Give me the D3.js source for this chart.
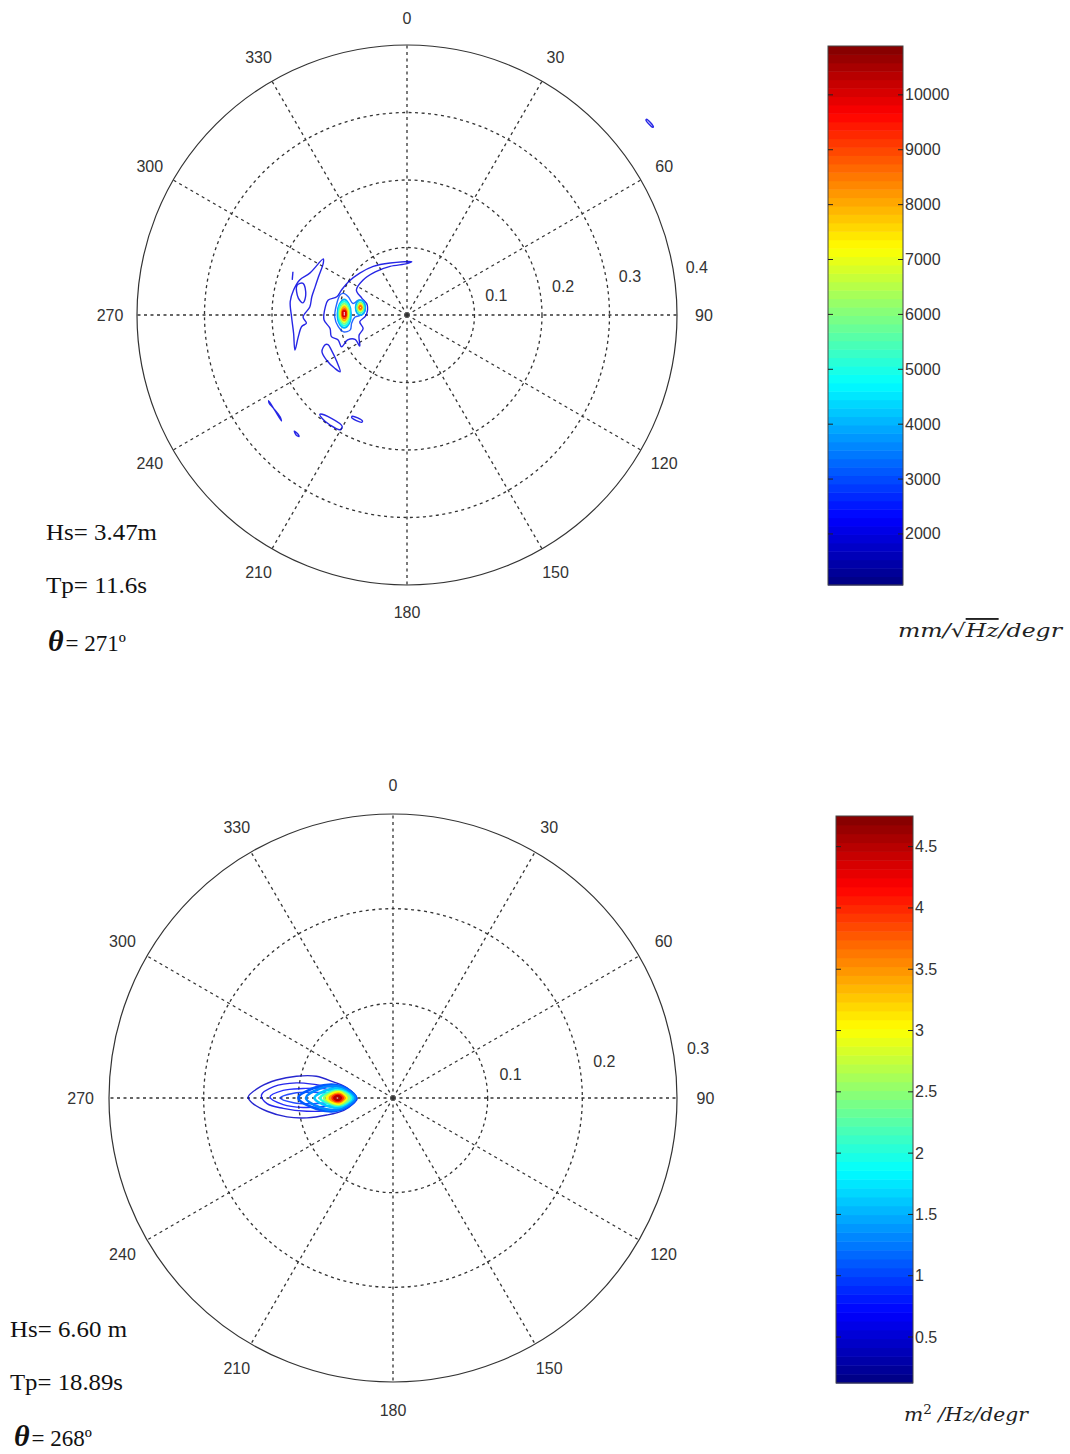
<!DOCTYPE html>
<html>
<head>
<meta charset="utf-8">
<script src="https://cdn.jsdelivr.net/npm/d3@7"></script>
<style>
  body { margin: 0; background: #fff; }
  svg text { font-family: "Liberation Sans", Arial, sans-serif; }
</style>
</head>
<body>
<div id="chart-holder"></div>
<script>
// direction labels (compass, clockwise from north)
const dirTicks = [0, 30, 60, 90, 120, 150, 180, 210, 240, 270, 300, 330];

// top panel
const topFreqTicks = [0.1, 0.2, 0.3, 0.4];
const topColorDomain = [1070, 10890];
const topColorTicks = [2000, 3000, 4000, 5000, 6000, 7000, 8000, 9000, 10000];
const topInfo = ["Hs= 3.47m", "Tp= 11.6s", "= 271º"];

// contours: [level, closed, [[east, north] frequency components]]
const topContours = [
  [2000, true, [[-0.124, 0.083], [-0.144, 0.062], [-0.159, 0.052], [-0.168, 0.037], [-0.173, 0.020], [-0.171, -0.003], [-0.168, -0.027], [-0.166, -0.052], [-0.161, -0.032], [-0.156, -0.017], [-0.149, -0.012], [-0.154, -0.003], [-0.144, 0.012], [-0.141, 0.027], [-0.136, 0.042], [-0.131, 0.057], [-0.124, 0.077]]],
  [2000, true, [[-0.163, 0.044], [-0.154, 0.047], [-0.150, 0.030], [-0.154, 0.018], [-0.161, 0.025]]],
  [2000, false, [[-0.169, 0.064], [-0.170, 0.052]]],
  [2000, true, [[0.007, 0.079], [-0.025, 0.077], [-0.050, 0.072], [-0.070, 0.062], [-0.087, 0.049], [-0.097, 0.037], [-0.104, 0.027], [-0.117, 0.022], [-0.121, 0.012], [-0.123, -0.007], [-0.114, -0.020], [-0.112, -0.032], [-0.102, -0.037], [-0.097, -0.047], [-0.088, -0.037], [-0.077, -0.036], [-0.070, -0.046], [-0.071, -0.030], [-0.065, -0.020], [-0.070, -0.010], [-0.061, -0.001], [-0.059, 0.015], [-0.067, 0.025], [-0.075, 0.037], [-0.065, 0.052], [-0.047, 0.064], [-0.025, 0.072], [0.000, 0.076]]],
  [2000, true, [[-0.121, -0.044], [-0.126, -0.054], [-0.119, -0.067], [-0.107, -0.079], [-0.099, -0.084], [-0.104, -0.069], [-0.112, -0.052], [-0.117, -0.044]]],
  [2000, true, [[-0.205, -0.127], [-0.196, -0.141], [-0.186, -0.157], [-0.188, -0.151], [-0.198, -0.138], [-0.204, -0.131]]],
  [2000, true, [[-0.167, -0.172], [-0.162, -0.176], [-0.160, -0.180], [-0.164, -0.178]]],
  [2000, true, [[-0.129, -0.147], [-0.112, -0.153], [-0.096, -0.165], [-0.099, -0.170], [-0.114, -0.163], [-0.126, -0.153]]],
  [2000, true, [[-0.081, -0.150], [-0.066, -0.157], [-0.067, -0.159], [-0.082, -0.152]]],
  [2000, true, [[0.355, 0.290], [0.365, 0.279], [0.364, 0.278], [0.354, 0.289]]],
  [3000, true, [[-0.099, 0.030], [-0.104, 0.017], [-0.107, -0.003], [-0.102, -0.017], [-0.094, -0.025], [-0.084, -0.022], [-0.082, -0.012], [-0.077, -0.003], [-0.067, 0.000], [-0.062, 0.007], [-0.065, 0.020], [-0.072, 0.022], [-0.080, 0.017], [-0.087, 0.027], [-0.094, 0.032]]],
  [4000, true, [[-0.093, 0.023], [-0.086, 0.016], [-0.083, 0.002], [-0.086, -0.013], [-0.093, -0.019], [-0.100, -0.013], [-0.103, 0.002], [-0.100, 0.016]]],
  [5000, true, [[-0.093, 0.020], [-0.087, 0.015], [-0.085, 0.002], [-0.087, -0.011], [-0.093, -0.016], [-0.099, -0.011], [-0.101, 0.002], [-0.099, 0.015]]],
  [6000, true, [[-0.093, 0.017], [-0.088, 0.012], [-0.086, 0.002], [-0.088, -0.008], [-0.093, -0.013], [-0.098, -0.008], [-0.100, 0.002], [-0.098, 0.012]]],
  [7000, true, [[-0.093, 0.014], [-0.089, 0.010], [-0.087, 0.002], [-0.089, -0.006], [-0.093, -0.010], [-0.097, -0.006], [-0.099, 0.002], [-0.097, 0.010]]],
  [8000, true, [[-0.093, 0.012], [-0.090, 0.009], [-0.089, 0.002], [-0.090, -0.005], [-0.093, -0.008], [-0.096, -0.005], [-0.097, 0.002], [-0.096, 0.009]]],
  [9000, true, [[-0.093, 0.009], [-0.091, 0.007], [-0.090, 0.002], [-0.091, -0.003], [-0.093, -0.005], [-0.095, -0.003], [-0.096, 0.002], [-0.095, 0.007]]],
  [10000, true, [[-0.093, 0.006], [-0.091, 0.005], [-0.091, 0.002], [-0.091, -0.001], [-0.093, -0.002], [-0.095, -0.001], [-0.095, 0.002], [-0.095, 0.005]]],
  [4000, true, [[-0.069, 0.022], [-0.064, 0.019], [-0.062, 0.011], [-0.064, 0.003], [-0.069, 0.000], [-0.074, 0.003], [-0.076, 0.011], [-0.074, 0.019]]],
  [5500, true, [[-0.069, 0.019], [-0.066, 0.017], [-0.064, 0.011], [-0.066, 0.005], [-0.069, 0.003], [-0.072, 0.005], [-0.074, 0.011], [-0.072, 0.017]]],
  [7000, true, [[-0.069, 0.017], [-0.067, 0.015], [-0.066, 0.011], [-0.067, 0.007], [-0.069, 0.006], [-0.071, 0.007], [-0.072, 0.011], [-0.071, 0.015]]],
  [8500, true, [[-0.069, 0.014], [-0.068, 0.013], [-0.067, 0.011], [-0.068, 0.009], [-0.069, 0.008], [-0.070, 0.009], [-0.071, 0.011], [-0.070, 0.013]]]
];

// bottom panel
const bottomFreqTicks = [0.1, 0.2, 0.3];
const bottomColorDomain = [0.125, 4.75];
const bottomColorTicks = [0.5, 1, 1.5, 2, 2.5, 3, 3.5, 4, 4.5];
const bottomInfo = ["Hs= 6.60 m", "Tp= 18.89s", "= 268º"];

const bottomContours = [
  [0.45, true, [[-0.153, 0.001], [-0.140, 0.012], [-0.123, 0.019], [-0.102, 0.023], [-0.081, 0.023], [-0.063, 0.017], [-0.049, 0.011], [-0.040, 0.003], [-0.038, -0.001], [-0.042, -0.006], [-0.052, -0.013], [-0.070, -0.018], [-0.091, -0.021], [-0.112, -0.020], [-0.133, -0.014], [-0.149, -0.005]]],
  [0.6, true, [[-0.139, 0.003], [-0.126, 0.012], [-0.102, 0.016], [-0.081, 0.014], [-0.063, 0.011], [-0.049, 0.005], [-0.042, 0.000], [-0.049, -0.007], [-0.067, -0.013], [-0.091, -0.014], [-0.116, -0.011], [-0.133, -0.006]]],
  [0.75, true, [[-0.130, 0.001], [-0.116, 0.008], [-0.095, 0.010], [-0.074, 0.010], [-0.056, 0.005], [-0.045, 0.000], [-0.056, -0.006], [-0.074, -0.009], [-0.095, -0.010], [-0.116, -0.007]]],
  [0.9, true, [[-0.119, 0.000], [-0.105, 0.005], [-0.084, 0.006], [-0.063, 0.004], [-0.049, 0.000], [-0.063, -0.004], [-0.084, -0.006], [-0.105, -0.005]]],
  [1.1, true, [[-0.100, 0.000], [-0.082, 0.011], [-0.062, 0.014], [-0.049, 0.010], [-0.039, 0.000], [-0.049, -0.010], [-0.062, -0.014], [-0.082, -0.011]]],
  [1.3, true, [[-0.092, 0], [-0.077, 0.010], [-0.061, 0.0125], [-0.050, 0.009], [-0.040, 0], [-0.050, -0.009], [-0.061, -0.0125], [-0.077, -0.010]]],
  [1.6, true, [[-0.083, 0], [-0.071, 0.008], [-0.058, 0.010], [-0.050, 0.007], [-0.042, 0], [-0.050, -0.007], [-0.058, -0.010], [-0.071, -0.008]]],
  [2.0, true, [[-0.077, 0], [-0.067, 0.0064], [-0.057, 0.008], [-0.050, 0.0056], [-0.044, 0], [-0.050, -0.0056], [-0.057, -0.008], [-0.067, -0.0064]]],
  [2.5, true, [[-0.073, 0], [-0.065, 0.0056], [-0.057, 0.007], [-0.051, 0.0049], [-0.046, 0], [-0.051, -0.0049], [-0.057, -0.007], [-0.065, -0.0056]]],
  [3.0, true, [[-0.070, 0], [-0.0635, 0.0048], [-0.057, 0.006], [-0.053, 0.0042], [-0.049, 0], [-0.053, -0.0042], [-0.057, -0.006], [-0.0635, -0.0048]]],
  [3.5, true, [[-0.067, 0], [-0.062, 0.0036], [-0.057, 0.0045], [-0.054, 0.0032], [-0.051, 0], [-0.054, -0.0032], [-0.057, -0.0045], [-0.062, -0.0036]]],
  [4.0, true, [[-0.064, 0], [-0.061, 0.0026], [-0.0575, 0.0032], [-0.055, 0.0022], [-0.053, 0], [-0.055, -0.0022], [-0.0575, -0.0032], [-0.061, -0.0026]]],
  [4.5, true, [[-0.062, 0], [-0.060, 0.0016], [-0.058, 0.002], [-0.0565, 0.0014], [-0.055, 0], [-0.0565, -0.0014], [-0.058, -0.002], [-0.060, -0.0016]]]
];

// MATLAB "jet" colormap stops
const jetStops = [0, 1 / 8, 3 / 8, 5 / 8, 7 / 8, 1];
const jetColors = ["#000080", "#0000ff", "#00ffff", "#ffff00", "#ff0000", "#800000"];

const width = 1070;
const height = 1454;

const svg = d3
  .select("#chart-holder")
  .append("svg")
  .attr("width", width)
  .attr("height", height);

const drawPanel = (p) => {
  const fmax = p.freqTicks[p.freqTicks.length - 1];
  const r = d3.scaleLinear().domain([0, fmax]).range([0, p.R]);
  const x = d3.scaleLinear().domain([-fmax, fmax]).range([p.cx - p.R, p.cx + p.R]);
  const y = d3.scaleLinear().domain([-fmax, fmax]).range([p.cy + p.R, p.cy - p.R]);
  const [lo, hi] = p.colorDomain;
  const color = d3
    .scaleLinear()
    .domain(jetStops.map((t) => lo + t * (hi - lo)))
    .range(jetColors)
    .clamp(true);

  const g = svg.append("g");

  // white disc + outer circle
  g.append("circle")
    .attr("cx", p.cx)
    .attr("cy", p.cy)
    .attr("r", r(fmax))
    .attr("fill", "#fff")
    .attr("stroke", "#333")
    .attr("stroke-width", 1.2);

  // dashed rings
  g.selectAll(".ring")
    .data(p.freqTicks.slice(0, -1))
    .enter()
    .append("circle")
    .attr("cx", p.cx)
    .attr("cy", p.cy)
    .attr("r", (d) => r(d))
    .attr("fill", "none")
    .attr("stroke", "#333")
    .attr("stroke-width", 1.3)
    .attr("stroke-dasharray", "3,3.5");

  // dashed spokes
  const rad = (a) => (a * Math.PI) / 180;
  g.selectAll(".spoke")
    .data(dirTicks)
    .enter()
    .append("line")
    .attr("x1", p.cx)
    .attr("y1", p.cy)
    .attr("x2", (d) => p.cx + r(fmax) * Math.sin(rad(d)))
    .attr("y2", (d) => p.cy - r(fmax) * Math.cos(rad(d)))
    .attr("stroke", "#333")
    .attr("stroke-width", 1.3)
    .attr("stroke-dasharray", "3,3.5");

  // direction labels
  g.selectAll(".dir")
    .data(dirTicks)
    .enter()
    .append("text")
    .attr("x", (d) => p.cx + 1.1 * r(fmax) * Math.sin(rad(d)))
    .attr("y", (d) => p.cy - 1.1 * r(fmax) * Math.cos(rad(d)))
    .attr("text-anchor", "middle")
    .attr("dominant-baseline", "central")
    .attr("font-size", 16)
    .attr("fill", "#333")
    .text((d) => d);

  // ring labels at 82 degrees
  g.selectAll(".rlab")
    .data(p.freqTicks)
    .enter()
    .append("text")
    .attr("x", (d) => p.cx + r(d + 0.005) * Math.sin(rad(82)) + 8)
    .attr("y", (d) => p.cy - r(d + 0.005) * Math.cos(rad(82)) - 4)
    .attr("font-size", 16)
    .attr("fill", "#333")
    .text((d) => d);

  // contours
  const closedLine = d3
    .line()
    .x((d) => x(d[0]))
    .y((d) => y(d[1]))
    .curve(d3.curveCatmullRomClosed.alpha(0.5));
  const openLine = d3
    .line()
    .x((d) => x(d[0]))
    .y((d) => y(d[1]))
    .curve(d3.curveCatmullRom.alpha(0.5));

  g.selectAll(".contour")
    .data(p.contours)
    .enter()
    .append("path")
    .attr("d", (d) => (d[1] ? closedLine(d[2]) : openLine(d[2])))
    .attr("fill", "none")
    .attr("stroke", (d) => color(d[0]))
    .attr("stroke-opacity", (d, i) => (i < p.thinCount ? 0.85 : 1))
    .attr("stroke-width", (d, i) => (i < p.thinCount ? 1.4 : p.thick))
    .attr("stroke-linejoin", "round");

  // colorbar
  const cb = p.cb;
  const cy = d3.scaleLinear().domain([lo, hi]).range([cb.y + cb.h, cb.y]);
  const bands = d3.range(64).map((i) => lo + (i * (hi - lo)) / 64);
  const step = (hi - lo) / 64;
  g.selectAll(".band")
    .data(bands)
    .enter()
    .append("rect")
    .attr("x", cb.x)
    .attr("y", (d) => cy(d + step))
    .attr("width", cb.w)
    .attr("height", (d) => cy(d) - cy(d + step) + 0.5)
    .attr("fill", (d) => color(d + step / 2));

  g.append("rect")
    .attr("x", cb.x)
    .attr("y", cb.y)
    .attr("width", cb.w)
    .attr("height", cb.h)
    .attr("fill", "none")
    .attr("stroke", "#444");

  const tick = g.selectAll(".cbtick").data(p.colorTicks).enter();
  tick
    .append("line")
    .attr("x1", cb.x)
    .attr("x2", cb.x + 5)
    .attr("y1", (d) => cy(d))
    .attr("y2", (d) => cy(d))
    .attr("stroke", "#222");
  tick
    .append("line")
    .attr("x1", cb.x + cb.w - 5)
    .attr("x2", cb.x + cb.w)
    .attr("y1", (d) => cy(d))
    .attr("y2", (d) => cy(d))
    .attr("stroke", "#222");
  tick
    .append("text")
    .attr("x", cb.x + cb.w + 2)
    .attr("y", (d) => cy(d))
    .attr("dominant-baseline", "central")
    .attr("font-size", 16)
    .attr("fill", "#333")
    .text((d) => d);

  // info text
  const info = p.info;
  p.infoPos.forEach((pos, i) => {
    const t = g
      .append("text")
      .attr("x", pos[0])
      .attr("y", pos[1])
      .style("font-family", "'Liberation Serif', 'Times New Roman', serif")
      .attr("font-size", 23)
      .attr("fill", "#111");
    if (i < 2) {
      t.attr("textLength", pos[2]).attr("lengthAdjust", "spacingAndGlyphs").text(info[i]);
    } else {
      t.append("tspan")
        .attr("font-size", 30)
        .attr("font-weight", "bold")
        .attr("font-style", "italic")
        .text("θ");
      t.append("tspan").attr("dx", 2).text(info[2]);
    }
  });
};

drawPanel({
  cx: 407,
  cy: 315,
  R: 270,
  freqTicks: topFreqTicks,
  colorDomain: topColorDomain,
  colorTicks: topColorTicks,
  contours: topContours,
  thinCount: 11,
  thick: 1.9,
  cb: { x: 828, y: 46, w: 75, h: 539 },
  info: topInfo,
  infoPos: [[46, 540, 111], [46, 593, 101], [48, 651]]
});

drawPanel({
  cx: 393,
  cy: 1098,
  R: 284,
  freqTicks: bottomFreqTicks,
  colorDomain: bottomColorDomain,
  colorTicks: bottomColorTicks,
  contours: bottomContours,
  thinCount: 4,
  thick: 2.6,
  cb: { x: 836, y: 816, w: 77, h: 567 },
  info: bottomInfo,
  infoPos: [[10, 1337, 117], [10, 1390, 113], [14, 1446]]
});

// unit labels
const unitFont = "'DejaVu Serif', 'Liberation Serif', serif";
const u1 = svg
  .append("text")
  .attr("x", 898)
  .attr("y", 637)
  .attr("textLength", 164)
  .attr("lengthAdjust", "spacingAndGlyphs")
  .style("font-family", unitFont)
  .style("font-style", "italic")
  .attr("font-size", 19)
  .attr("fill", "#222");
u1.append("tspan").text("mm/√");
u1.append("tspan").style("text-decoration", "overline").text("Hz");
u1.append("tspan").text("/degr");

const u2 = svg
  .append("text")
  .attr("x", 904)
  .attr("y", 1421)
  .attr("textLength", 124)
  .attr("lengthAdjust", "spacingAndGlyphs")
  .style("font-family", unitFont)
  .style("font-style", "italic")
  .attr("font-size", 18)
  .attr("fill", "#222");
u2.append("tspan").text("m");
u2.append("tspan").attr("dy", -7).attr("font-size", 12).style("font-style", "normal").text("2");
u2.append("tspan").attr("dy", 7).text(" /Hz/degr");
</script>
</body>
</html>
